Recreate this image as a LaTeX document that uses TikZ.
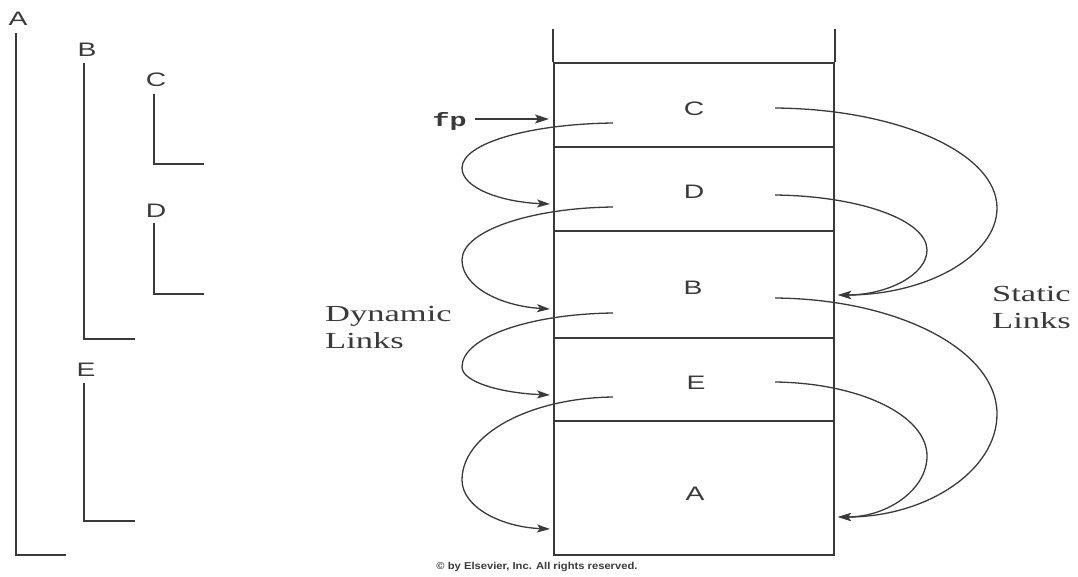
\documentclass[tikz,border=0pt]{standalone}
\usepackage{fontspec}
\setmainfont{Liberation Sans}
\newfontfamily\lblfont[FakeStretch=1.45]{Liberation Sans}
\newfontfamily\serfont[FakeStretch=1.5]{Liberation Serif}
\newfontfamily\fpfont[FakeStretch=1.5]{Liberation Mono}
\newfontfamily\cpfont[FakeStretch=1.12]{Liberation Sans}
\usetikzlibrary{arrows.meta}
\definecolor{ink}{HTML}{3A3A3A}
\begin{document}
\begin{tikzpicture}[x=1pt,y=-1pt,
  wall/.style={draw=ink,line width=2pt},
  scopeline/.style={draw=ink,line width=1.8pt},
  frame/.style={draw=ink,line width=1.8pt,minimum width=280pt,inner sep=0pt},
  link/.style={draw=ink,line width=1.3pt,-{Stealth[length=13pt,width=8pt,inset=3pt]}},
  fparrow/.style={draw=ink,line width=1.5pt,-{Stealth[length=14pt,width=9pt,inset=3pt]}},
  lbl/.style={text=ink,inner sep=0pt,font=\lblfont\fontsize{19.5}{23}\selectfont},
  sertext/.style={text=ink,inner sep=0pt,anchor=north west,align=left,font=\serfont\fontsize{23}{27.5}\selectfont},
]
\useasboundingbox (0,0) rectangle (1078,576);

% ---- static nesting (left) ----
\node[lbl] (nA) at (18,19) {A};
\node[lbl] (nB) at (87,50) {B};
\node[lbl] (nC) at (156,80) {C};
\node[lbl] (nD) at (156,211) {D};
\node[lbl] (nE) at (86,370) {E};
\draw[scopeline] (16,33) |- (66,555);
\draw[scopeline] (84,63) |- (135,339);
\draw[scopeline] (154,94) |- (204,164);
\draw[scopeline] (154,223) |- (204,294);
\draw[scopeline] (84,383) |- (135,521);

% ---- stack ----
\node[frame,minimum height=84pt] (fC) at (694,105) {};
\node[frame,minimum height=84pt] (fD) at (694,189) {};
\node[frame,minimum height=107pt] (fB) at (694,284.5) {};
\node[frame,minimum height=83pt] (fE) at (694,379.5) {};
\node[frame,minimum height=134pt] (fA) at (694,488) {};
\draw[wall] (fC.north west) -- ++(0,-33);
\draw[wall] (fC.north east) -- ++(0,-33);

\node[lbl] (tC) at (694,109) {C};
\node[lbl] (tD) at (694,192) {D};
\node[lbl] (tB) at (693,288) {B};
\node[lbl] (tE) at (696,383) {E};
\node[lbl] (tA) at (695,494) {A};

% ---- fp ----
\node[text=ink,inner sep=0pt,anchor=east,font=\fpfont\bfseries\fontsize{19}{22}\selectfont] (fp) at (467,121) {fp};
\coordinate (fptip) at (549,119);
\draw[fparrow,shorten <=8pt] (fp.east |- fptip) -- (fptip);

% ---- dynamic links ----
\coordinate (dC) at (613,123);
\coordinate (dD) at (613,207);
\coordinate (dB) at (613,313);
\coordinate (dE) at (613,397);
\coordinate (inD) at (550,204);
\coordinate (inB) at (550,309);
\coordinate (inE) at (550,395);
\coordinate (inA) at (550,529);
\draw[link] (dC) .. controls (530,124) and (462,143) .. (462,168)
                 .. controls (462,188) and (501,202) .. (inD);
\draw[link] (dD) .. controls (530,208) and (462,231) .. (462,260)
                 .. controls (462,287) and (501,306) .. (inB);
\draw[link] (dB) .. controls (530,314) and (462,337) .. (462,367)
                 .. controls (462,382) and (501,393) .. (inE);
\draw[link] (dE) .. controls (530,398) and (462,434) .. (462,480)
                 .. controls (462,507) and (501,527) .. (inA);

% ---- static links ----
\coordinate (sC) at (775,108);
\coordinate (sD) at (775,195);
\coordinate (sB) at (775,298);
\coordinate (sE) at (775,382);
\coordinate (toB) at (838,295);
\coordinate (toA) at (838,517);
\draw[link] (sC) .. controls (898,109) and (997,153) .. (997,208)
                 .. controls (997,256) and (926,295) .. (toB);
\draw[link] (sD) .. controls (859,196) and (927,220) .. (927,250)
                 .. controls (927,275) and (887,295) .. (toB);
\draw[link] (sB) .. controls (898,299) and (997,350) .. (997,414)
                 .. controls (997,471) and (926,517) .. (toA);
\draw[link] (sE) .. controls (859,383) and (927,415) .. (927,456)
                 .. controls (927,490) and (887,517) .. (toA);

% ---- texts ----
\node[sertext] (dyn) at (325,306) {Dynamic\\Links};
\node[sertext] (stat) at (992,286) {Static\\Links};
\node[text=ink,inner sep=0pt,font=\cpfont\bfseries\fontsize{10}{12}\selectfont] (cp) at (537,567) {© by Elsevier, Inc. All rights reserved.};
\end{tikzpicture}
\end{document}
